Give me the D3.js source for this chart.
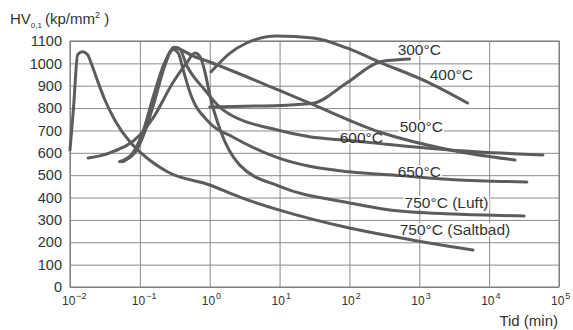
<!DOCTYPE html>
<html>
<head>
<meta charset="utf-8">
<script src="https://cdn.jsdelivr.net/npm/d3@7"></script>
<style>
  body { margin: 0; background: #fff; }
  text { font-family: "Liberation Sans", Arial, sans-serif; fill: #333; }
</style>
</head>
<body>
<div id="chart"></div>
<script>
// data: time as log10(min), hardness HV0,1
var yTicks = [0, 100, 200, 300, 400, 500, 600, 700, 800, 900, 1000, 1100];
var xExps = [-2, -1, 0, 1, 2, 3, 4, 5];

var t300 = [0, 0.5, 1, 1.48, 1.96, 2.43, 2.65, 2.86];
var hv300 = [805, 808, 812, 822, 912, 1006, 1015, 1019];

var t400 = [0.02, 0.29, 0.53, 0.96, 1.48, 1.96, 2.43, 3.15, 3.69];
var hv400 = [962, 1046, 1091, 1122, 1113, 1069, 1006, 912, 823];

var t500 = [-1.25, -1.1, -0.95, -0.8, -0.68, -0.58, -0.5, -0.42, -0.25, 0, 0.98, 1.43, 2.43, 3.44, 4.37];
var hv500 = [560, 595, 690, 820, 960, 1045, 1070, 1062, 1035, 1006, 881, 822, 693, 613, 568];

var t600 = [-1.2, -1.05, -0.9, -0.75, -0.62, -0.52, -0.44, -0.32, -0.07, 0.19, 1, 1.43, 2, 2.48, 3.44, 4.77];
var hv600 = [570, 610, 720, 880, 1010, 1072, 1068, 985, 881, 792, 700, 672, 655, 640, 613, 590];

var t650 = [-1.29, -1.1, -0.95, -0.8, -0.65, -0.52, -0.45, -0.37, -0.28, 0, 0.33, 1, 1.43, 2, 2.72, 3.5, 4.54];
var hv650 = [560, 600, 700, 860, 1000, 1062, 1045, 960, 868, 733, 671, 575, 540, 515, 498, 480, 470];

var tLuft = [-1.74, -1.43, -1.0, -0.81, -0.53, -0.33, -0.21, -0.13, -0.06, 0, 0.15, 0.43, 1, 2, 2.58, 3.5, 4.5];
var hvLuft = [577, 600, 680, 756, 912, 1002, 1046, 1025, 950, 860, 702, 545, 450, 376, 344, 326, 318];

var tSalt = [-2, -1.95, -1.89, -1.82, -1.75, -1.69, -1.61, -1.5, -1.36, -1.14, -1.0, -0.6, 0, 0.43, 1, 2, 2.58, 3.77];
var hvSalt = [613, 800, 1040, 1052, 1040, 995, 926, 836, 747, 648, 604, 514, 456, 402, 344, 264, 228, 165];

var seriesNames = ["300°C", "400°C", "500°C", "600°C", "650°C", "750°C (Luft)", "750°C (Saltbad)"];
var seriesT = [t300, t400, t500, t600, t650, tLuft, tSalt];
var seriesHV = [hv300, hv400, hv500, hv600, hv650, hvLuft, hvSalt];

// label anchor per curve (log10 time, HV) of text start / baseline
var labelT = [2.69, 3.15, 2.72, 1.86, 2.69, 2.79, 2.72];
var labelHV = [1038, 926, 693, 644, 492, 353, 233];

var W = 573, H = 330;
var margin = {top: 41, right: 14, bottom: 43, left: 70};
var width = W - margin.left - margin.right,
    height = H - margin.top - margin.bottom;

var svg = d3.select("#chart").append("svg")
    .attr("width", W)
    .attr("height", H);

var g = svg.append("g")
    .attr("transform", "translate(" + margin.left + "," + margin.top + ")");

var x = d3.scaleLog().domain([1e-2, 1e5]).range([0, width]);
var y = d3.scaleLinear().domain([0, 1100]).range([height, 0]);

// grid + y labels
var yAxis = g.append("g")
    .call(d3.axisLeft(y).tickValues(yTicks).tickFormat(d3.format("d"))
      .tickSize(-width).tickPadding(8));
yAxis.select(".domain").remove();
yAxis.selectAll("line").attr("stroke", "#8a8a8a").attr("stroke-width", 1);
yAxis.selectAll("text").attr("font-size", "14.5px").attr("fill", "#333")
    .attr("font-family", "'Liberation Sans', Arial, sans-serif");

var xAxis = g.append("g")
    .attr("transform", "translate(0," + height + ")")
    .call(d3.axisBottom(x).tickValues(xExps.map(function(e) { return Math.pow(10, e); }))
      .tickSize(-height).tickFormat(""));
xAxis.select(".domain").remove();
xAxis.selectAll("line").attr("stroke", "#8a8a8a").attr("stroke-width", 1);

g.append("rect")
    .attr("width", width).attr("height", height)
    .attr("fill", "none").attr("stroke", "#777").attr("stroke-width", 1);

// x tick labels 10^n
xExps.forEach(function(e) {
  var t = g.append("text")
      .attr("x", x(Math.pow(10, e)) - 8)
      .attr("y", height + 18)
      .attr("font-size", "12px");
  t.append("tspan").text("10");
  t.append("tspan").attr("dy", -6).attr("dx", 1).attr("font-size", "9px")
      .text(e < 0 ? "\u2212" + Math.abs(e) : e);
});

// label backgrounds
var labelLayer = g.append("g");
var bgLayer = labelLayer.append("g");

var line = d3.line()
    .x(function(d) { return x(Math.pow(10, d[0])); })
    .y(function(d) { return y(d[1]); })
    .curve(d3.curveMonotoneX);

var curves = g.append("g");
seriesNames.forEach(function(name, i) {
  var pts = seriesT[i].map(function(t, j) { return [t, seriesHV[i][j]]; });
  curves.append("path")
      .datum(pts)
      .attr("d", line)
      .attr("fill", "none")
      .attr("stroke", "#5c5c5c")
      .attr("stroke-width", 3)
      .attr("stroke-linecap", "round")
      .attr("stroke-linejoin", "round");
});

var textLayer = g.append("g");
seriesNames.forEach(function(name, i) {
  var tx = textLayer.append("text")
      .attr("x", x(Math.pow(10, labelT[i])))
      .attr("y", y(labelHV[i]))
      .attr("font-size", "15.5px")
      .text(name);
  var bb = tx.node().getBBox();
  bgLayer.append("rect")
      .attr("x", bb.x - 1).attr("y", bb.y + 2)
      .attr("width", bb.width + 2).attr("height", bb.height - 4)
      .attr("fill", "#fff");
});

// axis titles
var yt = svg.append("text").attr("x", 10).attr("y", 24).attr("font-size", "15px");
yt.append("tspan").text("HV");
yt.append("tspan").attr("dy", 4).attr("font-size", "8px").text("0,1");
yt.append("tspan").attr("dy", -4).attr("dx", 3).text("(kp/mm");
yt.append("tspan").attr("dy", -6).attr("font-size", "9px").text("2");
yt.append("tspan").attr("dy", 6).text(" )");

svg.append("text")
    .attr("x", 558).attr("y", 326)
    .attr("text-anchor", "end")
    .attr("font-size", "15px")
    .text("Tid (min)");
</script>
</body>
</html>
